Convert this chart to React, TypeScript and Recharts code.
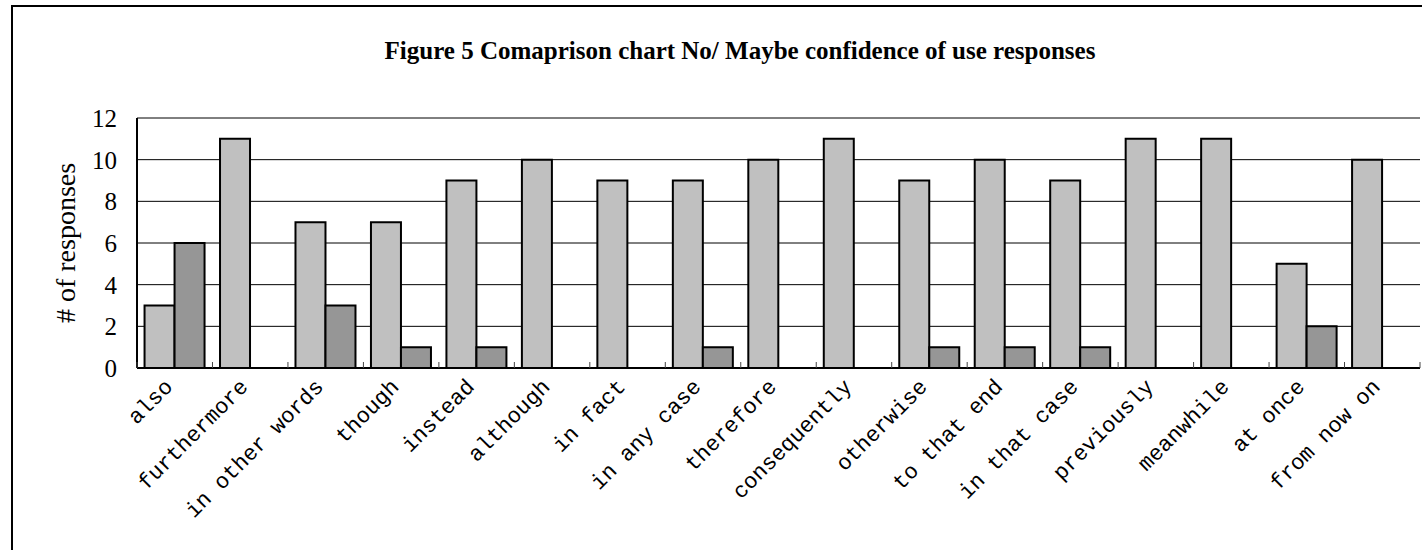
import { Bar, BarChart, CartesianGrid, XAxis, YAxis } from "recharts";

const categories = [
  "also",
  "furthermore",
  "in other words",
  "though",
  "instead",
  "although",
  "in fact",
  "in any case",
  "therefore",
  "consequently",
  "otherwise",
  "to that end",
  "in that case",
  "previously",
  "meanwhile",
  "at once",
  "from now on",
];
const noResponses = [3, 11, 7, 7, 9, 10, 9, 9, 10, 11, 9, 10, 9, 11, 11, 5, 10];
const maybeResponses = [6, 0, 3, 1, 1, 0, 0, 1, 0, 0, 1, 1, 1, 0, 0, 2, 0];
const yTicks = [0, 2, 4, 6, 8, 10, 12];

const data = categories.map((name, i) => ({
  name,
  no: noResponses[i],
  maybe: maybeResponses[i],
}));

const W = 1422;
const H = 550;
const X_AXIS_H = 182;
const Y_AXIS_W = 125;
const margin = { top: 118, right: 2, left: 12, bottom: 0 };
const BAND = (W - margin.left - margin.right - Y_AXIS_W) / categories.length;

function CategoryTick(props: any) {
  const { x, y, payload, index } = props;
  const half = payload?.offset || BAND / 2;
  const ax = x - 1;
  const ay = y + 20;
  return (
    <g>
      <line x1={x - half} y1={y} x2={x - half} y2={y - 6} stroke="#444" />
      {index === categories.length - 1 && (
        <line x1={x + half} y1={y} x2={x + half} y2={y - 6} stroke="#444" />
      )}
      <text
        x={ax}
        y={ay}
        transform={`rotate(-45 ${ax} ${ay})`}
        textAnchor="end"
        fontFamily="'Liberation Mono', monospace"
        fontSize={22}
        fill="#000"
      >
        {payload.value}
      </text>
    </g>
  );
}

function YLabel(props: any) {
  const vb = props.viewBox || {};
  const cx = 65;
  const cy = (vb.y ?? margin.top) + (vb.height ?? 250) / 2;
  return (
    <text
      x={cx}
      y={cy}
      transform={`rotate(-90 ${cx} ${cy})`}
      textAnchor="middle"
      dominantBaseline="central"
      fontFamily="'Liberation Serif', serif"
      fontSize={28}
      fill="#000"
    >
      # of responses
    </text>
  );
}

export default function App() {
  return (
    <div
      style={{
        position: "absolute",
        left: 0,
        top: 0,
        width: W,
        height: H,
        overflow: "hidden",
        background: "#fff",
      }}
    >
      <div
        style={{
          position: "absolute",
          left: 11,
          top: 5,
          width: 1600,
          height: 600,
          borderLeft: "2px solid #000",
          borderTop: "2px solid #000",
        }}
      />
      <div
        style={{
          position: "absolute",
          left: 0,
          top: 37,
          width: 1480,
          textAlign: "center",
          fontFamily: "'Liberation Serif', serif",
          fontWeight: "bold",
          fontSize: 25,
        }}
      >
        Figure 5 Comaprison chart No/ Maybe confidence of use responses
      </div>
      <div style={{ position: "absolute", left: 0, top: 0 }}>
        <BarChart
          width={W}
          height={H}
          data={data}
          margin={margin}
          barCategoryGap="10%"
          barGap={0}
        >
          <CartesianGrid vertical={false} stroke="#000" strokeWidth={1} />
          <XAxis
            dataKey="name"
            interval={0}
            tickSize={0}
            tickMargin={0}
            tickLine={false}
            axisLine={{ stroke: "#000", strokeWidth: 2 }}
            tick={<CategoryTick />}
            height={X_AXIS_H}
          />
          <XAxis
            xAxisId="top"
            orientation="top"
            dataKey="name"
            height={0}
            tick={false}
            tickLine={false}
            axisLine={{ stroke: "#888", strokeWidth: 2 }}
          />
          <YAxis
            domain={[0, 12]}
            ticks={yTicks}
            interval={0}
            width={Y_AXIS_W}
            tickLine={false}
            tickSize={6}
            tickMargin={14}
            axisLine={{ stroke: "#000", strokeWidth: 2 }}
            tick={{
              fill: "#000",
              fontSize: 25,
              fontFamily: "'Liberation Serif', serif",
            }}
            label={<YLabel />}
          />
          <YAxis
            yAxisId="right"
            orientation="right"
            width={0}
            domain={[0, 12]}
            tick={false}
            tickLine={false}
            axisLine={{ stroke: "#888", strokeWidth: 2 }}
          />
          <Bar
            dataKey="no"
            name="No"
            fill="#c0c0c0"
            stroke="#000"
            strokeWidth={2}
            isAnimationActive={false}
          />
          <Bar
            dataKey="maybe"
            name="Maybe"
            fill="#969696"
            stroke="#000"
            strokeWidth={2}
            isAnimationActive={false}
          />
        </BarChart>
      </div>
    </div>
  );
}
